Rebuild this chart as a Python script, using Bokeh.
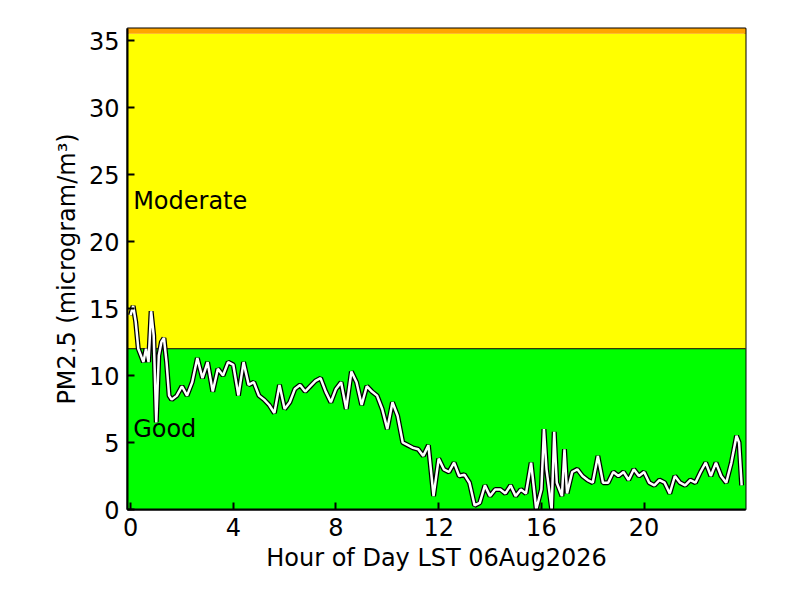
from bokeh.plotting import figure
from bokeh.models import Range1d, FixedTicker, Label
from bokeh.embed import file_html
from bokeh.resources import INLINE

hours = [0.0,0.1,0.2,0.3,0.4,0.5,0.6,0.7,0.8,0.9,1.0,1.1,1.2,1.3,1.4,1.5,1.6,1.8,2.0,2.2,2.4,2.6,2.8,3.0,3.2,3.4,3.6,3.8,4.0,4.2,4.4,4.6,4.8,5.0,5.2,5.4,5.6,5.8,6.0,6.2,6.4,6.6,6.8,7.0,7.2,7.4,7.6,7.8,8.0,8.2,8.4,8.6,8.8,9.0,9.2,9.4,9.6,9.8,10.0,10.2,10.4,10.6,10.8,11.0,11.2,11.4,11.6,11.8,12.0,12.2,12.4,12.6,12.8,13.0,13.2,13.4,13.6,13.8,14.0,14.2,14.4,14.6,14.8,15.0,15.2,15.4,15.6,15.8,16.0,16.1,16.2,16.4,16.5,16.6,16.8,16.9,17.0,17.2,17.4,17.6,17.8,18.0,18.2,18.4,18.6,18.8,19.0,19.2,19.4,19.6,19.8,20.0,20.2,20.4,20.6,20.8,21.0,21.2,21.4,21.6,21.8,22.0,22.2,22.4,22.6,22.8,23.0,23.2,23.4,23.6,23.7,23.8]
pm25 = [14.5,15.2,14.0,12.0,11.5,11.0,12.0,11.0,14.8,13.0,6.5,11.5,12.5,12.8,11.0,8.5,8.2,8.5,9.2,8.5,9.5,11.3,9.8,11.0,8.8,10.5,10.0,11.0,10.8,8.5,11.0,9.3,9.5,8.5,8.2,7.8,7.2,9.3,7.5,8.0,9.0,9.3,8.8,9.2,9.6,9.8,8.8,8.0,9.0,9.5,7.5,10.3,9.5,7.8,9.2,8.8,8.5,7.5,6.0,8.0,7.0,5.0,4.8,4.6,4.5,4.0,4.8,1.0,3.8,3.0,2.8,3.5,2.5,2.6,2.0,0.3,0.5,1.8,1.0,1.5,1.5,1.2,1.8,1.0,1.5,1.2,3.5,0.0,1.5,6.0,3.0,0.0,5.8,2.0,1.0,4.5,1.2,2.8,3.0,2.5,2.2,2.0,4.0,2.0,2.0,2.8,2.5,2.8,2.2,3.0,2.5,2.8,2.0,1.8,2.2,2.0,1.2,2.5,2.0,1.8,2.2,2.0,2.8,3.5,2.5,3.5,2.5,2.0,3.5,5.5,5.0,1.8]

bands = [("Good", 0, 12, "#00ff00"), ("Moderate", 12, 35.5, "#ffff00"), ("USG", 35.5, 40, "#ffa500")]
xticks = [0, 4, 8, 12, 16, 20, 24]
yticks = [0, 5, 10, 15, 20, 25, 30, 35]

p = figure(width=792, height=592, output_backend="svg", toolbar_location=None,
           x_range=Range1d(-0.12, 23.95), y_range=Range1d(0, 35.9),
           min_border_left=127, min_border_right=47, min_border_top=28, min_border_bottom=83)
p.background_fill_color = "white"
p.outline_line_color = "black"
p.outline_line_width = 2
p.grid.visible = False

for name, lo, hi, col in bands:
    p.quad(left=-1, right=25, bottom=lo, top=hi, fill_color=col, line_color=None)
p.segment(x0=-1, x1=25, y0=12, y1=12, line_color="black", line_width=1)

p.line(hours, pm25, line_color="black", line_width=5)
p.line(hours, pm25, line_color="white", line_width=2.5)

p.add_layout(Label(x=0.1, y=23, text="Moderate", text_font_size="18pt", text_font="DejaVu Sans",
                   text_baseline="middle", text_color="black"))
p.add_layout(Label(x=0.1, y=6, text="Good", text_font_size="18pt", text_font="DejaVu Sans",
                   text_baseline="middle", text_color="black"))

for ax in (p.xaxis[0], p.yaxis[0]):
    ax.major_label_text_font = "DejaVu Sans"
    ax.major_label_text_font_size = "18pt"
    ax.major_label_text_color = "black"
    ax.axis_label_text_font = "DejaVu Sans"
    ax.axis_label_text_font_size = "18pt"
    ax.axis_label_text_color = "black"
    ax.axis_label_text_font_style = "normal"
    ax.axis_line_width = 2
    ax.axis_line_color = "black"
    ax.major_tick_in = 7
    ax.major_tick_out = 0
    ax.minor_tick_in = 0
    ax.minor_tick_out = 0
    ax.major_tick_line_width = 2
    ax.major_tick_line_color = "black"
    ax.major_label_standoff = 8
p.xaxis.ticker = FixedTicker(ticks=xticks)
p.yaxis.ticker = FixedTicker(ticks=yticks)
p.xaxis.major_label_overrides = {}
p.xaxis.axis_label = "Hour of Day LST 06Aug2026"
p.yaxis.axis_label = "PM2.5 (microgram/m³)"

open("out.html", "w").write(file_html(p, INLINE))
